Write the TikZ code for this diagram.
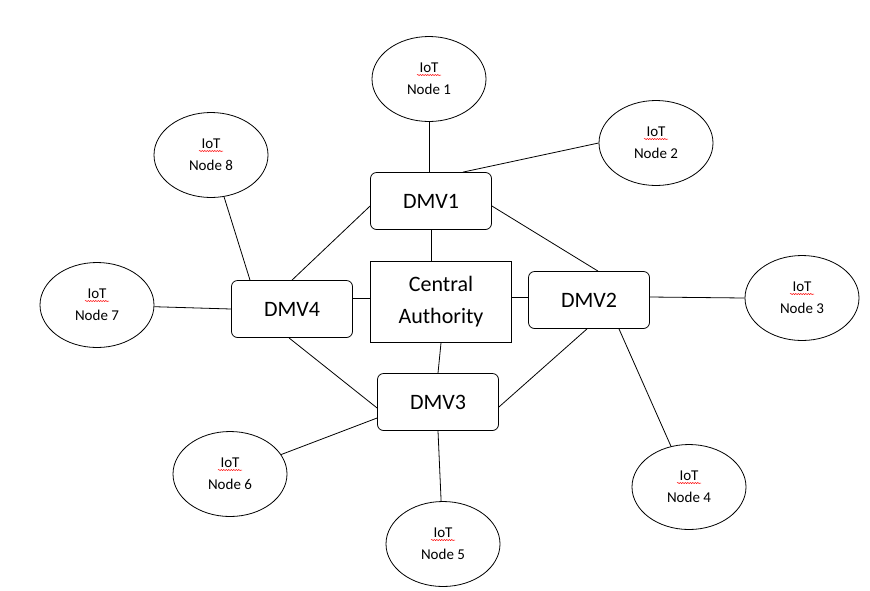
\documentclass[tikz,border=0pt]{standalone}
\usepackage{fontspec}
\setmainfont{Carlito}
\usetikzlibrary{shapes.geometric,calc,decorations.pathmorphing}
\begin{document}
\begin{tikzpicture}[x=1pt,y=-1pt,
  iot/.style={draw,thick,ellipse,minimum width=114pt,minimum height=85pt,inner sep=0pt,align=center,font=\fontsize{15}{22}\selectfont},
  dmv/.style={draw,thick,rounded corners=6pt,minimum width=121pt,minimum height=57pt,font=\fontsize{22}{26}\selectfont},
  ln/.style={thick},
  wavy/.style={red,decorate,decoration={snake,amplitude=0.6pt,segment length=2.5pt},line width=0.5pt}]
\useasboundingbox (0,0) rectangle (870,590);
\node[iot] (n1) at (429,79) {IoT\\Node 1};
\node[iot] (n2) at (656,143) {IoT\\Node 2};
\node[iot] (n3) at (802,298) {IoT\\Node 3};
\node[iot] (n4) at (689,487) {IoT\\Node 4};
\node[iot] (n5) at (443,544) {IoT\\Node 5};
\node[iot] (n6) at (230,474) {IoT\\Node 6};
\node[iot] (n7) at (97,305) {IoT\\Node 7};
\node[iot] (n8) at (211,155) {IoT\\Node 8};
\foreach \n in {n1,n2,n3,n4,n5,n6,n7,n8}
  \draw[wavy] ($(\n)+(-12,-4)$) -- ($(\n)+(12,-4)$);
\node[dmv] (d1) at (431,201) {DMV1};
\node[dmv] (d2) at (589,300) {DMV2};
\node[dmv] (d3) at (438,402) {DMV3};
\node[dmv] (d4) at (292,309) {DMV4};
\node[draw,thick,minimum width=141pt,minimum height=81pt,align=center,font=\fontsize{22}{32}\selectfont] (ca) at (441,302) {Central\\Authority};
\draw[ln] (n1) -- (d1.north -| n1);
\draw[ln] (n2.west) -- ([xshift=32pt]d1.north);
\draw[ln] ([yshift=-5pt]d1.east) -- ([xshift=9pt]d2.north);
\draw[ln] ([yshift=-5pt]d1.west) -- (d4.north);
\draw[ln] (d1.south) -- (ca.north -| d1.south);
\draw[ln] ([yshift=5pt]ca.east) -- ([yshift=3pt]d2.west);
\draw[ln] ([yshift=4pt]ca.west) -- ([yshift=11pt]d4.east);
\draw[ln] (ca.south) -- (d3.north);
\draw[ln] ([yshift=3pt]d2.east) -- (n3.west);
\draw[ln] ([xshift=30pt]d2.south) -- (n4);
\draw[ln] ([xshift=-2pt]d2.south) -- ([yshift=-5pt]d3.east);
\draw[ln] (d3.south) -- (n5);
\draw[ln] ([yshift=-16pt]d3.west) -- (n6);
\draw[ln] ([xshift=-3pt]d4.south) -- ([yshift=-6pt]d3.west);
\draw[ln] (d4.west) -- (n7);
\draw[ln] ([xshift=-42pt]d4.north) -- (n8);
\end{tikzpicture}
\end{document}
